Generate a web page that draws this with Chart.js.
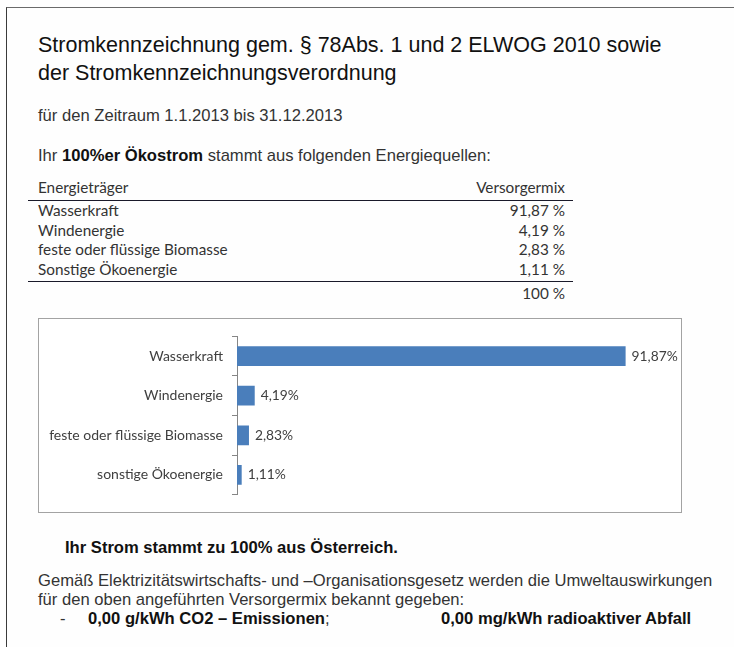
<!DOCTYPE html>
<html>
<head>
<meta charset="utf-8">
<script src="https://cdn.jsdelivr.net/npm/chart.js@4.4.1/dist/chart.umd.min.js"></script>
<style>
  html, body { margin: 0; padding: 0; background: #fefefe; }
  body { width: 734px; height: 647px; position: relative; overflow: hidden; font-family: 'Liberation Sans', Arial, sans-serif; color: #1e1e1e; }
  .frame { position: absolute; left: 6px; top: 7px; right: -2px; bottom: -2px; border-left: 1.5px solid #3a3a3a; border-top: 1.5px solid #6a6a6a; }
  .t { position: absolute; white-space: nowrap; }
  .title { left: 38px; font-size: 21.5px; line-height: 24px; color: #111; }
  .body { left: 38px; font-size: 16.6px; line-height: 20px; color: #333; }
  .tbl { font-family: Lato, 'Open Sans', sans-serif; font-size: 15.3px; line-height: 19.5px; color: #333; }
  .rule { position: absolute; left: 28px; width: 545px; height: 0; border-top: 1.3px solid #1a1a2a; }
  .val { position: absolute; right: 169px; text-align: right; }
  .box { position: absolute; left: 38px; top: 318px; width: 642px; height: 193px; border: 1.5px solid #a3a3a3; background: #fff; }
  .box canvas { position: absolute; left: 0; top: 0; }
  b { font-weight: bold; color: #111; }
</style>
</head>
<body>
<div class="frame"></div>

<div class="t title" style="top:33px">Stromkennzeichnung gem. § 78Abs. 1 und 2 ELWOG 2010 sowie</div>
<div class="t title" style="top:61px">der Stromkennzeichnungsverordnung</div>

<div class="t body" style="top:106px">für den Zeitraum 1.1.2013 bis 31.12.2013</div>
<div class="t body" style="top:146px">Ihr <b>100%er Ökostrom</b> stammt aus folgenden Energiequellen:</div>

<div id="table"></div>

<div class="box"><canvas id="mix" width="642" height="193"></canvas></div>

<div class="t body" style="left:65px;top:538px"><b>Ihr Strom stammt zu 100% aus Österreich.</b></div>
<div class="t body" style="top:571px">Gemäß Elektrizitätswirtschafts- und –Organisationsgesetz werden die Umweltauswirkungen</div>
<div class="t body" style="top:590px">für den oben angeführten Versorgermix bekannt gegeben:</div>
<div class="t body" style="left:60px;top:609px">-</div>
<div class="t body" style="left:88px;top:609px"><b>0,00 g/kWh CO2 – Emissionen</b>;</div>
<div class="t body" style="left:441px;top:609px"><b>0,00 mg/kWh radioaktiver Abfall</b></div>

<script>
const tableSources = ['Wasserkraft', 'Windenergie', 'feste oder flüssige Biomasse', 'Sonstige Ökoenergie'];
const tableValues = ['91,87 %', '4,19 %', '2,83 %', '1,11 %'];
const tableTotal = '100 %';

const categories = ['Wasserkraft', 'Windenergie', 'feste oder flüssige Biomasse', 'sonstige Ökoenergie'];
const shares = [91.87, 4.19, 2.83, 1.11];
const shareLabels = ['91,87%', '4,19%', '2,83%', '1,11%'];

// table above the chart
const tbl = document.getElementById('table');
let html = '<div class="t tbl" style="left:38px;top:178px">Energieträger</div>' +
    '<div class="t tbl val" style="top:178px">Versorgermix</div>' +
    '<div class="rule" style="top:200px"></div>';
tableSources.forEach((name, i) => {
    const top = 201 + i * 19.6;
    html += '<div class="t tbl" style="left:38px;top:' + top + 'px">' + name + '</div>';
    html += '<div class="t tbl val" style="top:' + top + 'px">' + tableValues[i] + '</div>';
});
html += '<div class="rule" style="top:281px"></div>';
html += '<div class="t tbl val" style="top:284px">' + tableTotal + '</div>';
tbl.innerHTML = html;

const valueLabels = {
    id: 'valueLabels',
    afterDatasetsDraw(chart) {
        const ctx = chart.ctx;
        ctx.save();
        ctx.font = '13.8px Lato, "Open Sans", sans-serif';
        ctx.fillStyle = '#404040';
        ctx.textBaseline = 'middle';
        chart.getDatasetMeta(0).data.forEach((bar, i) => {
            ctx.fillText(shareLabels[i], bar.x + 6, bar.y);
        });
        ctx.restore();
    }
};

new Chart(document.getElementById('mix'), {
    type: 'bar',
    data: {
        labels: categories,
        datasets: [{
            data: shares,
            backgroundColor: '#4a7ebb',
            borderWidth: 0,
            barPercentage: 0.5,
            categoryPercentage: 1
        }]
    },
    options: {
        indexAxis: 'y',
        responsive: false,
        animation: false,
        layout: { padding: { top: 16, bottom: 15, right: 21, left: 0 } },
        plugins: { legend: { display: false }, tooltip: { enabled: false } },
        scales: {
            x: { display: false, min: 0, max: 100 },
            y: {
                grid: { drawOnChartArea: false, tickLength: 5, color: '#868686', offset: true },
                border: { color: '#868686' },
                ticks: {
                    color: '#404040',
                    padding: 9,
                    font: { family: 'Lato, "Open Sans", sans-serif', size: 14 }
                },
                afterFit(scale) { scale.width = 198; }
            }
        }
    },
    plugins: [valueLabels]
});
</script>
</body>
</html>
